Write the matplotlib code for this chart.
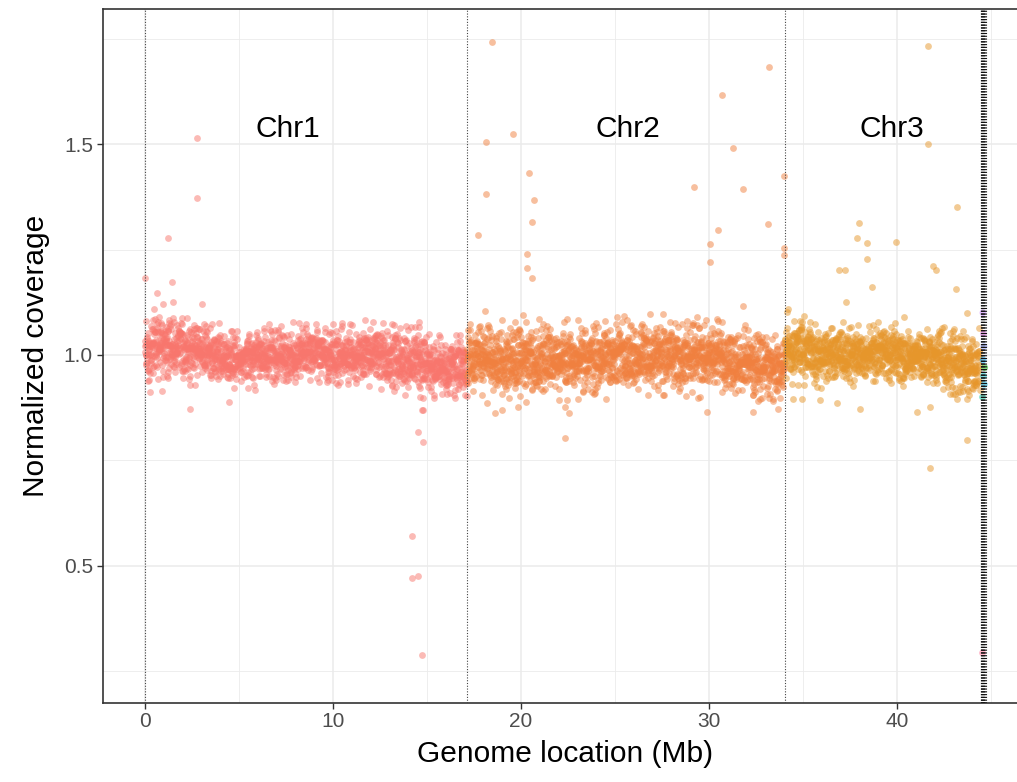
import numpy as np
import matplotlib
matplotlib.use("Agg")
import matplotlib.pyplot as plt
from matplotlib.ticker import MultipleLocator

plt.rcParams['font.family'] = ['Liberation Sans', 'DejaVu Sans']

# ---------------- data ----------------
chrom_names = ["Chr1", "Chr2", "Chr3"]
chrom_start = [0.0, 17.13, 34.04]
chrom_end = [17.13, 34.04, 44.40]
chrom_colors = ["#F8766D", "#F0803F", "#E6962B"]
label_x = [7.6, 25.7, 39.7]
label_y = [1.535, 1.535, 1.535]

# local centre of the coverage band, one value per Mb from each chromosome start
chr1_center = [1.02, 1.03, 1.02, 1.01, 1.00, 1.00, 0.995, 1.00, 1.00, 1.005,
               1.00, 1.00, 1.00, 0.995, 0.985, 0.98, 0.975, 0.975]
chr2_center = [0.99, 0.99, 0.985, 0.985, 0.99, 0.99, 0.99, 0.99, 0.995, 1.00,
               1.00, 1.00, 0.995, 0.99, 0.985, 0.98, 0.975, 0.975]
chr3_center = [1.02, 1.01, 1.00, 1.00, 1.00, 1.00, 1.005, 1.00, 0.995, 0.985, 0.975]
# local spread (sd) of the band, per Mb
chr1_sd = [0.045, 0.04, 0.035, 0.032, 0.03, 0.03, 0.03, 0.03, 0.03, 0.03,
           0.03, 0.03, 0.03, 0.03, 0.032, 0.032, 0.032, 0.032]
chr2_sd = [0.037] * 18
chr3_sd = [0.035, 0.032, 0.03, 0.03, 0.03, 0.03, 0.03, 0.03, 0.032, 0.034, 0.034]
bins_per_mb = 105

# individually read outlying points (Mb, coverage)
chr1_out_x = [2.75, 2.75, 1.21, 0.0, 1.42, 0.66, 3.05, 1.51, 11.70, 14.59,
              2.39, 4.49, 0.89, 14.77, 14.54, 14.77, 15.39, 14.63, 14.75,
              14.22, 14.22, 14.50, 14.75]
chr1_out_y = [1.514, 1.372, 1.277, 1.183, 1.172, 1.146, 1.120, 1.125, 1.083, 1.077,
              0.871, 0.889, 0.915, 0.869, 0.817, 0.794, 0.897, 0.901, 0.869,
              0.571, 0.470, 0.476, 0.288]
chr2_out_x = [18.44, 18.12, 18.14, 17.73, 19.59, 20.43, 20.69, 20.59, 20.30, 20.34,
              20.59, 33.19, 30.67, 31.30, 29.22, 31.83, 34.00, 30.46, 30.05, 30.05,
              33.16, 34.00, 34.00, 20.09, 19.68, 31.83, 30.67, 18.09,
              22.34, 18.97, 19.86, 22.34, 22.57, 29.91, 32.36, 33.69, 18.62, 18.17]
chr2_out_y = [1.742, 1.505, 1.382, 1.285, 1.524, 1.431, 1.368, 1.316, 1.239, 1.207,
              1.183, 1.683, 1.617, 1.492, 1.399, 1.394, 1.425, 1.297, 1.263, 1.221,
              1.310, 1.253, 1.236, 1.095, 1.078, 1.115, 1.079, 1.104,
              0.802, 0.869, 0.876, 0.877, 0.862, 0.865, 0.864, 0.872, 0.863, 0.887]
chr3_out_x = [41.63, 41.63, 43.17, 37.99, 37.89, 38.39, 39.95, 38.39, 36.93, 37.23,
              41.93, 42.07, 38.65, 43.14, 37.27, 43.74, 40.37,
              41.76, 43.74, 41.05, 41.76, 38.03, 36.82, 35.90, 34.49, 34.93]
chr3_out_y = [1.734, 1.501, 1.350, 1.313, 1.278, 1.265, 1.267, 1.227, 1.202, 1.202,
              1.210, 1.202, 1.162, 1.157, 1.125, 1.099, 1.089,
              0.731, 0.798, 0.864, 0.877, 0.871, 0.887, 0.892, 0.895, 0.895]

# small unplaced contigs at the end of the genome
contig_lines = [44.44, 44.47, 44.50, 44.53, 44.56, 44.59, 44.62, 44.65, 44.68, 44.71]
contig_x = [44.55, 44.58, 44.60, 44.62, 44.64, 44.57, 44.66, 44.60, 44.55]
contig_y = [0.293, 0.988, 0.95, 1.02, 0.93, 1.10, 0.97, 1.05, 0.90]
contig_colors = ["#FF6C91", "#00A9FF", "#00BFC4", "#8494FF", "#00B8E7",
                 "#C77CFF", "#0CB702", "#ED68ED", "#00C19A"]

# ---------------- figure ----------------
W, H = 1017, 782
fig = plt.figure(figsize=(W / 100, H / 100), dpi=100)
ax = fig.add_axes([102.7 / W, 1 - 702.7 / H, (1027.7 - 102.7) / W, (702.7 - 9.3) / H])

# dense band: centre/spread profile read per Mb, fixed-seed scatter for texture
rng = np.random.default_rng(7)
centers = [chr1_center, chr2_center, chr3_center]
sds = [chr1_sd, chr2_sd, chr3_sd]
outs_x = [chr1_out_x, chr2_out_x, chr3_out_x]
outs_y = [chr1_out_y, chr2_out_y, chr3_out_y]
msize = 24

for i in range(3):
    n = int(round((chrom_end[i] - chrom_start[i]) * bins_per_mb))
    xs = np.linspace(chrom_start[i], chrom_end[i], n, endpoint=False)
    prof_x = chrom_start[i] + np.arange(len(centers[i]))
    c = np.interp(xs, prof_x, centers[i])
    s = np.interp(xs, prof_x, sds[i])
    z = np.clip(rng.standard_normal(n), -2.6, 2.6)
    ys = c + s * z
    ax.scatter(xs, ys, s=msize, color=chrom_colors[i], alpha=0.5, linewidths=0, zorder=3)
    ax.scatter(outs_x[i], outs_y[i], s=msize, color=chrom_colors[i], alpha=0.5,
               linewidths=0, zorder=3)
    ax.text(label_x[i], label_y[i], chrom_names[i], fontsize=21.5, ha='center',
            va='center', color='black', zorder=5)

ax.scatter(contig_x, contig_y, s=msize, c=contig_colors, alpha=0.5, linewidths=0, zorder=3)

for xv in chrom_start:
    ax.axvline(xv, color='#444444', lw=0.8, ls=(0, (1, 1.5)), zorder=4)
for xv in contig_lines:
    ax.axvline(xv, color='#111111', lw=0.8, ls=(0, (1, 1.5)), zorder=4)

ax.set_xlim(-2.25, 46.95)
ax.set_ylim(0.175, 1.82)
ax.xaxis.set_major_locator(MultipleLocator(10))
ax.xaxis.set_minor_locator(MultipleLocator(5))
ax.yaxis.set_major_locator(MultipleLocator(0.5))
ax.yaxis.set_minor_locator(MultipleLocator(0.25))
ax.set_yticks([0.5, 1.0, 1.5])
ax.set_yticklabels(["0.5", "1.0", "1.5"])

ax.grid(which='major', color='#EBEBEB', lw=1.1, zorder=0)
ax.grid(which='minor', color='#EBEBEB', lw=0.6, zorder=0)
ax.set_axisbelow(True)
for sp in ax.spines.values():
    sp.set_color('#333333')
    sp.set_linewidth(1.2)

ax.tick_params(which='major', length=4, width=1.0, color='#333333',
               labelcolor='#4D4D4D', labelsize=15, pad=3)
ax.tick_params(which='minor', length=0)

ax.set_xlabel("Genome location (Mb)", fontsize=21.5, color='black', labelpad=6)
ax.set_ylabel("Normalized coverage", fontsize=21.5, color='black', labelpad=10)

fig.savefig("out.png", dpi=100)
